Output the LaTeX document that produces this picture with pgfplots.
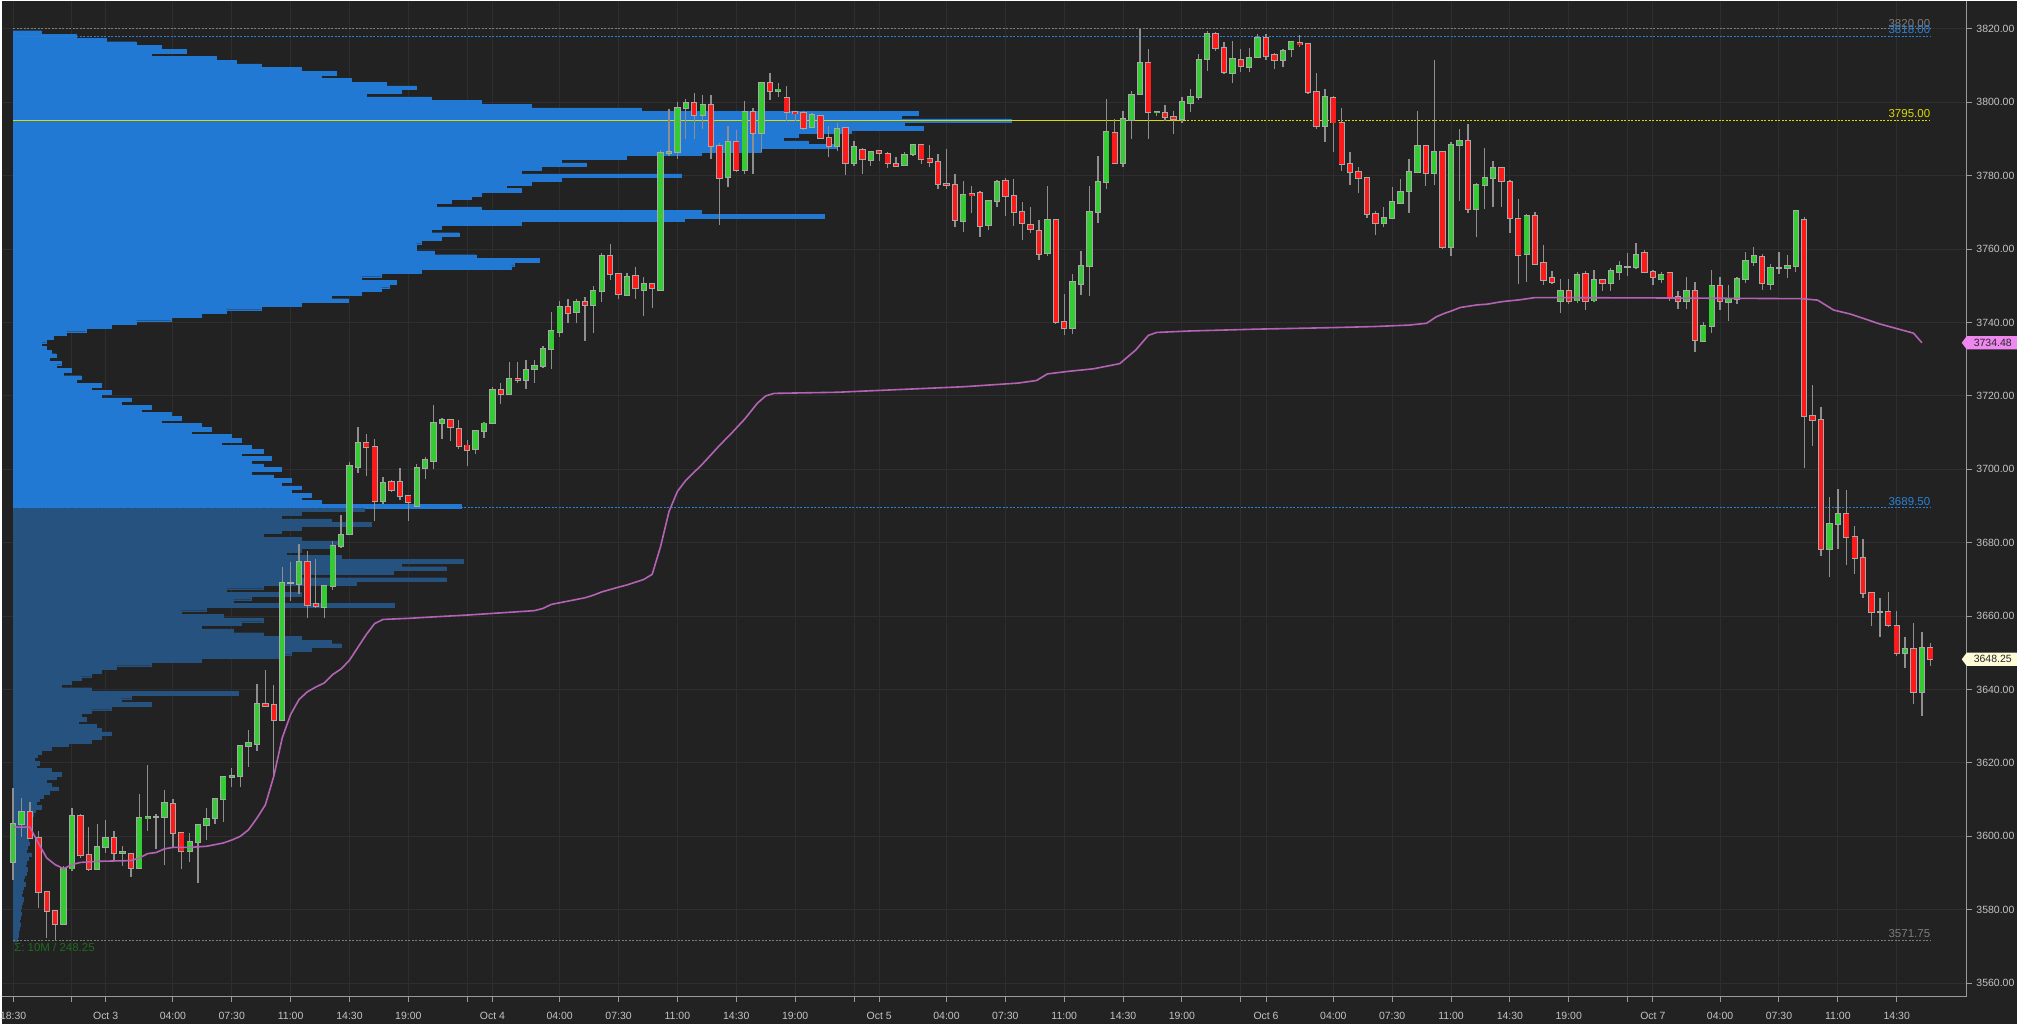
\documentclass[border=0pt]{standalone}
\usepackage{pgfplots}
\pgfplotsset{compat=1.18}
\usepackage{pgfplotstable}
\usepackage{fontspec}
\setmainfont{Liberation Sans}

\definecolor{bg}{HTML}{222222}
\definecolor{gridc}{HTML}{2E2E2E}
\definecolor{axisc}{HTML}{9A9A9A}
\definecolor{tickc}{HTML}{C4C4C4}
\definecolor{upc}{HTML}{33CC33}
\definecolor{dnc}{HTML}{FF1A1A}
\definecolor{wickc}{HTML}{8E8E8E}
\definecolor{outc}{HTML}{A8A8A8}
\definecolor{profhi}{HTML}{2279D3}
\definecolor{proflo}{HTML}{25527E}
\definecolor{vwapc}{HTML}{B463B4}
\definecolor{tagpink}{HTML}{EE88EE}
\definecolor{tagcream}{HTML}{FFFCD8}
\definecolor{pocc}{HTML}{DADA00}
\definecolor{valc}{HTML}{2A80D6}
\definecolor{grayl}{HTML}{7C7C7C}
\definecolor{sigc}{HTML}{1E6B1E}

\pgfplotstableread{
O H L C
3593.0 3613.25 3588.25 3603.5
3603.5 3610.5 3599.75 3606.75
3606.75 3609.5 3599.5 3599.5
3599.5 3601.5 3580.5 3584.75
3584.75 3585.0 3572.25 3579.75
3579.75 3580.0 3571.75 3576.0
3576.0 3592.0 3576.0 3591.25
3591.25 3607.75 3590.5 3605.5
3605.5 3606.0 3594.0 3595.0
3595.0 3602.5 3590.5 3591.0
3591.0 3603.5 3591.0 3597.0
3597.0 3604.5 3595.5 3599.5
3599.5 3601.5 3593.5 3595.5
3595.5 3597.25 3592.0 3595.75
3595.25 3595.5 3589.0 3591.5
3591.5 3611.5 3591.5 3605.0
3605.0 3619.5 3601.5 3605.25
3605.25 3606.0 3596.5 3605.25
3605.25 3612.75 3592.25 3609.0
3608.75 3610.25 3597.0 3601.0
3601.0 3601.25 3591.0 3596.0
3596.0 3601.0 3593.0 3598.5
3598.5 3603.5 3587.25 3603.0
3603.0 3607.75 3599.0 3604.75
3605.0 3610.5 3603.5 3610.25
3610.25 3616.25 3604.0 3616.25
3616.25 3618.5 3613.5 3616.5
3616.5 3625.0 3613.5 3624.75
3624.75 3629.0 3619.0 3625.5
3625.25 3641.5 3623.25 3636.0
3636.0 3645.25 3635.5 3635.5
3635.75 3641.25 3616.75 3631.75
3631.75 3673.5 3631.75 3669.0
3669.0 3674.75 3664.25 3669.0
3668.75 3679.75 3666.0 3674.75
3674.75 3677.75 3659.5 3663.0
3663.25 3675.5 3662.25 3662.75
3662.5 3668.5 3659.5 3668.25
3668.25 3680.5 3667.25 3679.0
3679.0 3687.5 3678.5 3682.25
3682.5 3702.0 3682.5 3701.0
3700.75 3711.5 3699.0 3707.25
3707.25 3709.5 3698.25 3706.0
3706.0 3708.25 3686.0 3691.5
3691.5 3698.0 3690.5 3696.25
3696.5 3697.0 3693.75 3694.5
3696.5 3700.25 3691.75 3692.75
3692.75 3693.0 3686.0 3691.0
3690.0 3701.5 3689.75 3700.5
3700.25 3703.5 3697.5 3702.5
3702.25 3717.5 3700.0 3712.5
3712.5 3714.0 3708.25 3713.5
3713.5 3713.75 3707.75 3711.5
3711.0 3713.5 3705.5 3706.5
3706.5 3708.0 3701.0 3705.25
3705.5 3710.75 3704.25 3710.5
3710.5 3713.0 3708.5 3712.5
3712.5 3722.5 3712.25 3721.5
3721.75 3723.5 3717.75 3720.5
3720.5 3729.25 3720.5 3724.75
3724.75 3729.25 3723.5 3724.25
3724.25 3729.75 3722.0 3727.0
3727.25 3729.75 3723.5 3728.25
3728.25 3733.5 3727.75 3732.75
3732.75 3743.0 3727.25 3737.75
3737.5 3746.0 3736.0 3744.25
3744.25 3746.5 3740.0 3742.5
3742.75 3746.5 3740.0 3745.5
3745.5 3747.0 3735.0 3744.75
3744.75 3750.0 3737.25 3748.5
3748.5 3759.0 3745.5 3758.0
3758.25 3761.5 3751.5 3753.25
3753.25 3753.5 3746.5 3747.75
3747.5 3753.5 3747.25 3752.5
3752.75 3755.0 3746.5 3749.5
3749.0 3752.5 3741.75 3750.5
3750.5 3750.75 3744.0 3749.5
3748.75 3787.0 3748.5 3786.25
3786.25 3798.25 3785.5 3786.5
3786.5 3800.0 3784.5 3798.5
3798.5 3801.0 3790.0 3799.75
3799.75 3802.5 3790.0 3796.5
3796.5 3802.0 3792.75 3799.25
3799.25 3802.0 3784.5 3788.0
3788.0 3789.0 3766.5 3779.5
3779.75 3793.5 3777.0 3789.25
3789.25 3792.5 3781.0 3781.5
3781.5 3800.25 3780.5 3797.25
3797.25 3798.5 3780.5 3791.75
3791.75 3805.5 3786.5 3805.25
3805.25 3808.0 3800.75 3803.0
3803.0 3805.25 3801.5 3803.5
3801.25 3804.5 3795.0 3797.25
3797.25 3797.75 3795.0 3797.0
3797.0 3797.75 3792.5 3793.0
3793.25 3797.0 3793.0 3796.5
3796.25 3796.25 3790.0 3790.25
3790.25 3793.5 3785.0 3788.0
3788.0 3794.5 3786.75 3792.75
3793.0 3793.25 3780.25 3783.5
3783.5 3789.5 3782.75 3787.75
3787.0 3787.5 3780.5 3784.5
3784.25 3786.75 3782.75 3786.5
3786.75 3787.0 3784.0 3786.25
3786.0 3786.5 3782.0 3783.5
3783.25 3785.0 3782.25 3782.75
3783.0 3786.5 3782.75 3785.75
3786.0 3788.5 3785.25 3788.25
3788.25 3788.75 3783.25 3784.5
3784.5 3788.25 3782.5 3783.75
3783.75 3786.0 3776.5 3777.75
3777.75 3787.25 3776.5 3777.5
3777.5 3780.5 3766.0 3768.0
3767.75 3778.5 3764.75 3774.75
3775.0 3777.25 3769.75 3774.75
3775.25 3775.75 3763.25 3766.25
3766.5 3773.25 3765.25 3773.0
3773.25 3778.75 3771.5 3778.25
3778.5 3779.25 3769.0 3774.5
3774.5 3779.25 3766.25 3770.0
3770.0 3772.75 3762.5 3767.0
3766.5 3771.5 3764.5 3765.5
3765.0 3768.0 3757.0 3758.75
3759.0 3777.25 3758.25 3768.0
3768.0 3768.25 3739.5 3740.25
3740.25 3747.75 3736.5 3738.5
3738.5 3753.25 3736.75 3751.0
3750.5 3759.5 3747.5 3755.5
3755.5 3777.25 3747.25 3770.0
3770.0 3785.5 3767.0 3778.25
3778.25 3801.0 3776.5 3792.0
3791.75 3795.5 3783.5 3783.5
3783.5 3797.75 3782.25 3795.5
3795.25 3803.0 3790.0 3802.0
3802.25 3820.0 3802.25 3810.75
3810.75 3814.5 3790.0 3797.25
3797.25 3797.5 3796.25 3797.5
3797.0 3799.25 3795.0 3796.0
3796.0 3797.5 3791.5 3795.5
3795.5 3801.5 3794.5 3800.0
3799.75 3803.5 3797.25 3801.5
3801.5 3813.25 3800.5 3811.5
3811.75 3819.5 3808.5 3818.5
3818.5 3819.25 3814.0 3814.75
3814.75 3816.5 3807.75 3808.25
3808.0 3816.75 3805.25 3811.75
3811.5 3814.5 3808.25 3810.0
3809.75 3814.75 3808.25 3812.0
3812.25 3818.5 3812.0 3817.5
3817.5 3818.5 3811.5 3812.5
3813.0 3813.5 3809.0 3811.5
3811.5 3814.5 3809.75 3814.0
3814.5 3816.75 3812.25 3816.5
3816.25 3818.25 3815.0 3815.75
3816.0 3816.25 3802.25 3802.75
3802.75 3808.0 3792.75 3793.5
3793.5 3803.75 3789.25 3801.5
3801.25 3801.75 3786.5 3794.5
3794.25 3798.5 3781.25 3783.25
3783.25 3786.5 3777.5 3781.0
3781.0 3782.5 3775.25 3779.25
3779.25 3779.75 3768.5 3769.5
3769.5 3770.5 3763.75 3767.0
3767.25 3771.5 3766.0 3768.5
3768.5 3777.0 3768.25 3772.75
3772.5 3779.0 3772.25 3775.5
3775.75 3784.5 3769.75 3781.0
3781.0 3797.75 3781.0 3788.0
3788.0 3788.0 3777.25 3780.75
3780.75 3811.5 3777.5 3786.5
3786.5 3786.5 3760.0 3760.5
3760.5 3789.25 3758.0 3788.5
3788.5 3792.75 3773.25 3789.5
3789.5 3794.0 3769.75 3771.0
3771.0 3778.0 3763.25 3777.5
3777.5 3787.5 3771.0 3779.25
3779.25 3784.0 3771.5 3782.0
3782.0 3782.5 3771.5 3778.5
3778.25 3778.75 3764.5 3768.5
3768.25 3773.75 3750.5 3758.5
3758.75 3769.5 3751.0 3769.0
3769.0 3770.25 3755.75 3756.0
3756.25 3761.0 3750.25 3751.5
3752.0 3754.0 3750.5 3751.0
3746.0 3751.75 3742.5 3748.5
3748.5 3752.0 3745.0 3746.0
3746.0 3753.75 3745.25 3753.0
3753.25 3754.0 3743.5 3746.0
3746.0 3754.25 3745.5 3751.5
3751.5 3752.0 3748.5 3750.75
3750.75 3755.0 3748.5 3754.0
3753.75 3756.75 3751.5 3755.5
3755.25 3759.0 3752.75 3755.25
3755.25 3761.75 3754.5 3758.5
3759.0 3759.75 3753.5 3753.75
3753.75 3754.25 3750.25 3752.5
3752.0 3753.75 3750.75 3753.0
3753.5 3753.75 3746.0 3746.75
3747.0 3748.5 3743.75 3746.0
3746.0 3752.5 3743.75 3748.5
3748.5 3751.0 3732.0 3735.25
3735.0 3740.25 3734.75 3739.0
3739.0 3754.25 3737.25 3750.0
3750.0 3752.5 3743.5 3745.75
3745.5 3750.25 3740.5 3746.5
3746.5 3752.5 3745.0 3752.0
3751.75 3759.25 3750.75 3756.75
3756.5 3760.5 3755.5 3758.0
3758.0 3758.75 3749.0 3750.75
3750.5 3756.0 3749.0 3754.75
3755.0 3759.25 3753.25 3755.0
3754.75 3758.5 3752.0 3755.5
3755.5 3770.5 3753.75 3770.5
3768.0 3768.75 3700.25 3714.5
3714.5 3723.0 3706.25 3713.5
3713.5 3717.0 3676.5 3678.25
3678.25 3692.5 3670.75 3685.0
3685.0 3694.75 3678.25 3687.75
3687.75 3694.25 3674.0 3681.5
3681.5 3684.5 3671.5 3675.75
3675.75 3681.0 3665.0 3666.25
3666.25 3666.5 3657.25 3661.25
3661.25 3665.0 3654.25 3661.25
3661.25 3666.5 3657.0 3657.5
3657.25 3661.5 3649.25 3650.0
3650.0 3654.25 3646.0 3651.0
3651.0 3658.25 3636.0 3639.25
3639.25 3655.75 3632.75 3651.25
3651.25 3652.75 3646.5 3648.25
}\candles

\pgfplotstableread{
i v
0 3602.5
2 3602.5
3 3598.2
4 3594.1
5 3592.3
6 3591.2
7 3592.3
8 3592.9
10 3593.2
14 3593.4
15 3594.1
16 3595.3
17 3595.6
18 3596.6
19 3597.0
21 3597.0
23 3597.3
25 3598.2
26 3599.0
27 3600.0
28 3601.8
29 3605.0
30 3608.6
31 3616.4
32 3626.8
33 3633.2
34 3637.3
35 3639.4
36 3640.7
37 3641.8
38 3644.1
39 3645.6
40 3648.0
41 3651.5
42 3655.0
43 3658.0
44 3659.1
47 3659.4
50 3659.8
54 3660.3
58 3660.9
62 3661.5
63 3662.1
64 3663.2
66 3664.1
68 3665.0
69 3665.7
70 3666.6
72 3667.9
73 3668.5
75 3670.0
76 3671.4
77 3679.0
78 3688.5
79 3694.0
80 3697.0
82 3701.5
84 3706.5
85.5 3710.0
87 3713.7
88.5 3718.0
89.5 3720.0
90.5 3720.7
98 3721.0
106 3721.8
113 3722.5
119.5 3723.5
121.7 3724.2
123 3726.0
125.5 3726.7
128.5 3727.4
131.6 3728.8
133.5 3732.5
135 3736.5
136 3737.3
140 3737.7
148 3738.2
156.7 3738.6
161.8 3738.9
166 3739.3
168.1 3739.8
169.2 3741.5
170.1 3742.4
171.1 3743.2
172.1 3744.1
174.1 3744.8
175.3 3745.0
177.1 3745.7
179.2 3746.2
181 3746.8
195 3746.7
212.7 3746.5
214.6 3746.1
216.5 3743.4
218.5 3742.3
222 3739.6
226 3737.1
227 3734.48
}\vwap

\pgfplotstableread{
p E
3819 40
3818 75
3817 105
3816 135
3815 160
3814 185
3813 150
3812 215
3811 235
3810 260
3809 300
3808 335
3807 320
3806 350
3805 385
3804 415
3803 400
3802 365
3801 430
3800 480
3799 530
3798 640
3797 917
3796 900
3795 1010
3794 903
3793 922
3792 850
3791 797
3790 782
3789 807
3788 835
3787 760
3786 700
3785 625
3784 560
3783 585
3782 540
3781 520
3780 680
3779 560
3778 530
3777 505
3776 520
3775 480
3774 470
3773 450
3772 435
3771 480
3770 700
3769 823
3768 683
3767 520
3766 440
3765 430
3764 458
3763 440
3762 420
3761 415
3760 415
3759 433
3758 475
3757 538
3756 513
3755 510
3754 420
3753 380
3752 360
3751 395
3750 388
3749 380
3748 360
3747 330
3746 347
3745 300
3744 260
3743 225
3742 200
3741 170
3740 135
3739 110
3738 85
3737 65
3736 52
3735 45
3734 40
3733 45
3732 50
3731 55
3730 48
3729 60
3728 55
3727 70
3726 62
3725 80
3724 75
3723 100
3722 90
3721 110
3720 100
3719 130
3718 120
3717 150
3716 140
3715 170
3714 180
3713 160
3712 200
3711 210
3710 190
3709 230
3708 240
3707 220
3706 250
3705 262
3704 240
3703 270
3702 250
3701 262
3700 280
3699 250
3698 272
3697 290
3696 280
3695 300
3694 290
3693 310
3692 300
3691 320
3690 460
}\profhitab

\pgfplotstableread{
p E
3689 363
3688 300
3687 280
3686 330
3685 370
3684 300
3683 280
3682 262
3681 300
3680 340
3679 330
3678 300
3677 285
3676 340
3675 462
3674 400
3673 445
3672 392
3671 300
3670 445
3669 355
3668 262
3667 225
3666 300
3665 250
3664 232
3663 393
3662 205
3661 180
3660 222
3659 262
3658 240
3657 200
3656 232
3655 262
3654 300
3653 330
3652 340
3651 310
3650 290
3649 280
3648 200
3647 150
3646 115
3645 100
3644 90
3643 80
3642 70
3641 60
3640 90
3639 237
3638 130
3637 120
3636 150
3635 110
3634 90
3633 80
3632 85
3631 77
3630 95
3629 100
3628 110
3627 100
3626 90
3625 67
3624 50
3623 40
3622 36
3621 33
3620 38
3619 35
3618 50
3617 60
3616 55
3615 45
3614 50
3613 57
3612 48
3611 42
3610 38
3609 35
3608 40
3607 34
3606 32
3605 30
3604 28
3603 27
3602 29
3601 26
3600 25
3599 27
3598 28
3597 26
3596 25
3595 30
3594 27
3593 25
3592 24
3591 26
3590 25
3589 23
3588 22
3587 24
3586 22
3585 21
3584 20
3583 22
3582 21
3581 20
3580 19
3579 20
3578 19
3577 18
3576 19
3575 18
3574 17
3573 17
3572 16
}\proflotab

\begin{document}
\begin{tikzpicture}
\fill[bg] (0,0) rectangle (2017pt,1024pt);
\begin{axis}[
  at={(0pt,27.3pt)}, anchor=south west,
  scale only axis, width=1966.7pt, height=996.7pt,
  xmin=-1.378, xmax=232.33, ymin=3556.35, ymax=3827.7,
  clip=false,
  axis x line*=bottom, axis y line*=right,
  axis line style={draw=axisc, line width=1.3pt},
  xtick={0,7,11,19,26,33,40,47,54,57,65,72,79,86,93,100,103,111,118,125,132,139,146,149,157,164,171,178,185,192,195,203,210,217,224},
  xticklabels={18:30,,Oct 3,04:00,07:30,11:00,14:30,19:00,,Oct 4,04:00,07:30,11:00,14:30,19:00,,Oct 5,04:00,07:30,11:00,14:30,19:00,,Oct 6,04:00,07:30,11:00,14:30,19:00,,Oct 7,04:00,07:30,11:00,14:30},
  ytick={3560,3580,...,3820},
  yticklabel={\pgfmathprintnumber[fixed,fixed zerofill,precision=2,1000 sep={},assume math mode=true]{\tick}},
  tick align=outside,
  major tick length=5pt,
  tick style={draw=axisc, line width=1pt},
  grid=major,
  major grid style={draw=gridc, line width=1pt},
  tick label style={font=\fontsize{10.5}{12}\selectfont, text=tickc},
  yticklabel style={anchor=west, inner sep=0pt, xshift=4.5pt},
  xticklabel style={anchor=north, inner sep=0pt, yshift=-10pt},
]
% volume profile
\addplot[xbar, bar width=1, bar shift=0pt, fill=profhi, draw=profhi, line width=0.2pt, forget plot]
  table[x expr={(\thisrow{E}-11.6)/8.415}, y=p] {\profhitab};
\addplot[xbar, bar width=1, bar shift=0pt, fill=proflo, draw=proflo, line width=0.2pt, forget plot]
  table[x expr={(\thisrow{E}-11.6)/8.415}, y=p] {\proflotab};

% level lines
\addplot[grayl, line width=1pt, dash pattern=on 2pt off 1.5pt] coordinates {(0,3820) (228,3820)};
\addplot[valc, line width=1.2pt, dash pattern=on 2pt off 1.5pt] coordinates {(0,3818) (228,3818)};
\addplot[pocc, line width=1.6pt] coordinates {(0,3795) (139.2,3795)};
\addplot[pocc, line width=1.2pt, dash pattern=on 2pt off 1.5pt] coordinates {(139.2,3795) (228,3795)};
\addplot[valc, line width=1.2pt, dash pattern=on 2pt off 1.5pt] coordinates {(0,3689.5) (228,3689.5)};
\addplot[grayl, line width=1pt, dash pattern=on 2pt off 1.5pt] coordinates {(0,3571.75) (228,3571.75)};

% wicks
\addplot[draw=none, mark=none, forget plot,
  error bars/.cd, y dir=both, y explicit, error mark=none,
  error bar style={draw=wickc, line width=1.3pt}]
  table[x expr=\coordindex, y expr={(\thisrow{H}+\thisrow{L})/2}, y error expr={(\thisrow{H}-\thisrow{L})/2}] {\candles};
% body outlines
\addplot[draw=none, mark=none, forget plot,
  error bars/.cd, y dir=both, y explicit, error mark=none,
  error bar style={draw=outc, line width=6.3pt}]
  table[x expr=\coordindex, y expr={(\thisrow{O}+\thisrow{C})/2}, y error expr={abs(\thisrow{C}-\thisrow{O})/2+0.27}] {\candles};
% up bodies
\addplot[draw=none, mark=none, forget plot,
  error bars/.cd, y dir=both, y explicit, error mark=none,
  error bar style={draw=upc, line width=4.5pt}]
  table[x expr=\coordindex, y expr={(\thisrow{O}+\thisrow{C})/2}, y error expr={ifthenelse(\thisrow{C}>\thisrow{O},(\thisrow{C}-\thisrow{O})/2,0)}] {\candles};
% down bodies
\addplot[draw=none, mark=none, forget plot,
  error bars/.cd, y dir=both, y explicit, error mark=none,
  error bar style={draw=dnc, line width=4.5pt}]
  table[x expr=\coordindex, y expr={(\thisrow{O}+\thisrow{C})/2}, y error expr={ifthenelse(\thisrow{C}<\thisrow{O},(\thisrow{O}-\thisrow{C})/2,0)}] {\candles};

% VWAP
\addplot[vwapc, line width=1.6pt, mark=none] table[x=i, y=v] {\vwap};

% level labels
\node[anchor=south east, inner sep=0pt, text=grayl, font=\fontsize{11.5}{13}\selectfont] at (axis cs:228,3820) [yshift=1pt] {3820.00};
\node[anchor=south east, inner sep=0pt, text=valc, font=\fontsize{11.5}{13}\selectfont] at (axis cs:228,3818) [yshift=2pt] {3818.00};
\node[anchor=south east, inner sep=0pt, text=pocc, font=\fontsize{11.5}{13}\selectfont] at (axis cs:228,3795) [yshift=2.5pt] {3795.00};
\node[anchor=south east, inner sep=0pt, text=valc, font=\fontsize{11.5}{13}\selectfont] at (axis cs:228,3689.5) [yshift=2.5pt] {3689.50};
\node[anchor=south east, inner sep=0pt, text=grayl, font=\fontsize{11.5}{13}\selectfont] at (axis cs:228,3571.75) [yshift=2.5pt] {3571.75};
\node[anchor=north west, inner sep=0pt, text=sigc, font=\fontsize{11.5}{13}\selectfont] at (axis cs:0.1,3571.75) [yshift=-3pt] {Σ: 10M / 248.25};

\coordinate (tagA) at (axis cs:232.33,3734.48);
\coordinate (tagB) at (axis cs:232.33,3648.25);
\end{axis}
% price tags
\fill[tagpink] ([xshift=-5pt]tagA) -- ([yshift=6.7pt]tagA) -- ([xshift=50.3pt,yshift=6.7pt]tagA) -- ([xshift=50.3pt,yshift=-6.7pt]tagA) -- ([yshift=-6.7pt]tagA) -- cycle;
\node[text=black!85, inner sep=0pt, font=\fontsize{10.5}{12}\selectfont] at ([xshift=26pt]tagA) {3734.48};
\fill[tagcream] ([xshift=-5pt]tagB) -- ([yshift=6.7pt]tagB) -- ([xshift=50.3pt,yshift=6.7pt]tagB) -- ([xshift=50.3pt,yshift=-6.7pt]tagB) -- ([yshift=-6.7pt]tagB) -- cycle;
\node[text=black!85, inner sep=0pt, font=\fontsize{10.5}{12}\selectfont] at ([xshift=26pt]tagB) {3648.25};
\end{tikzpicture}
\end{document}
